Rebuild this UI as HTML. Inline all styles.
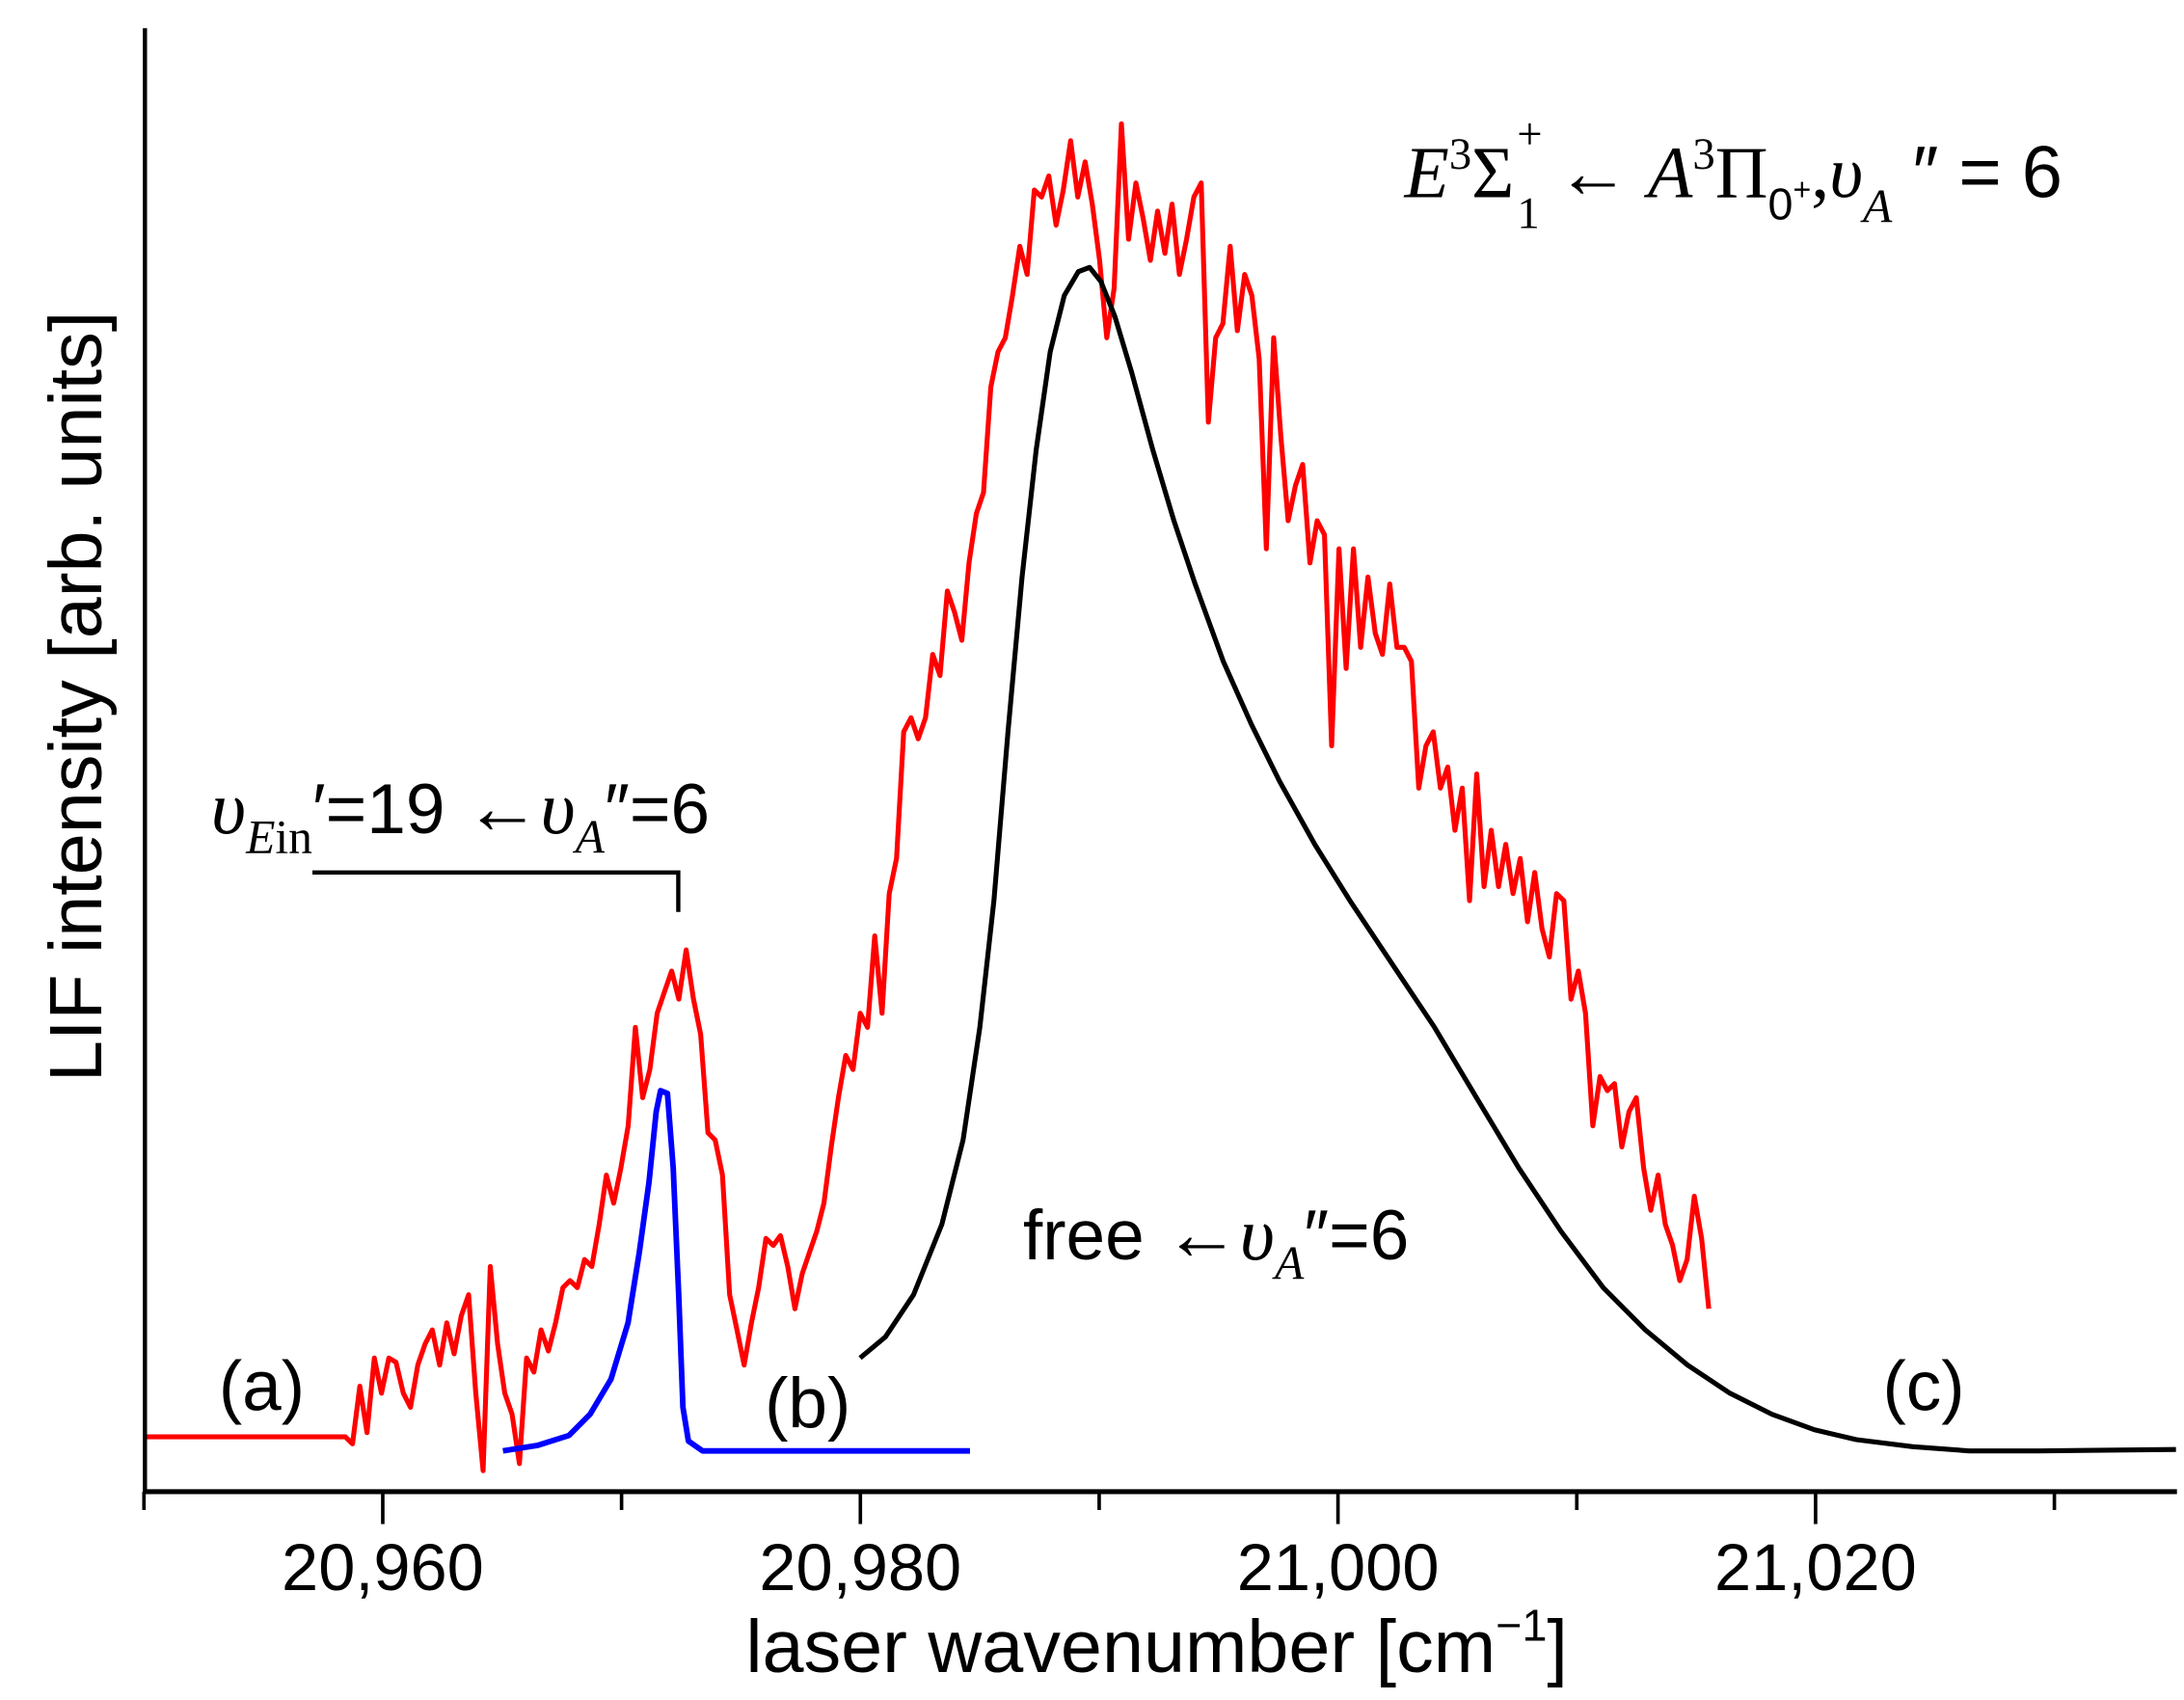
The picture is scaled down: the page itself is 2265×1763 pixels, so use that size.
<!DOCTYPE html>
<html><head><meta charset="utf-8"><style>html,body{margin:0;padding:0;background:#fff}svg{display:block}</style></head>
<body>
<svg id="chart" width="2265" height="1763" viewBox="0 0 1552 1208" xmlns="http://www.w3.org/2000/svg" font-family="Liberation Sans, sans-serif">
<rect width="1552" height="1208" fill="#fff"/>
<g id="marks"></g>
<g id="axes"></g>
<text transform="translate(72,495) rotate(-90)" text-anchor="middle" font-size="53">LIF intensity [arb. units]</text>
<text x="822" y="1188" text-anchor="middle" font-size="53">laser wavenumber [cm<tspan dy="-22" font-size="32">−1</tspan><tspan dy="22">]</tspan></text>
<text x="186" y="1002" text-anchor="middle" font-size="50">(a)</text>
<text x="574" y="1014" text-anchor="middle" font-size="50">(b)</text>
<text x="1367" y="1002" text-anchor="middle" font-size="50">(c)</text>
<text x="727" y="895" font-size="50">free <tspan font-size="54">←</tspan><tspan font-family="Liberation Serif, serif" font-style="italic" font-size="54">υ</tspan><tspan font-family="Liberation Serif, serif" font-style="italic" font-size="34" dy="14">A</tspan><tspan dy="-14">″=6</tspan></text>
<text x="150" y="592" font-size="50"><tspan font-family="Liberation Serif, serif" font-style="italic" font-size="54">υ</tspan><tspan font-family="Liberation Serif, serif" font-style="italic" font-size="34" dy="14">E</tspan><tspan font-family="Liberation Serif, serif" font-size="34">in</tspan><tspan dy="-14">′=19 </tspan><tspan font-size="54">←</tspan><tspan font-family="Liberation Serif, serif" font-style="italic" font-size="54">υ</tspan><tspan font-family="Liberation Serif, serif" font-style="italic" font-size="34" dy="14">A</tspan><tspan dy="-14">″=6</tspan></text>
<path d="M222,620 H482 V648" fill="none" stroke="#000" stroke-width="3"/>
<text x="998" y="140" font-size="52" font-family="Liberation Serif, serif"><tspan font-style="italic">E</tspan><tspan font-size="32" dy="-20">3</tspan><tspan dy="20">Σ</tspan><tspan font-size="32" dy="-34" dx="2">+</tspan><tspan font-size="32" dx="-18" dy="56">1</tspan><tspan dy="-22" dx="12">← </tspan><tspan font-style="italic">A</tspan><tspan font-size="32" dy="-20">3</tspan><tspan dy="20">Π</tspan><tspan font-size="32" dy="16" font-family="Liberation Sans, sans-serif">0</tspan><tspan font-size="22" dy="-14" font-family="Liberation Sans, sans-serif">+</tspan><tspan dy="-2">,</tspan><tspan font-style="italic">υ</tspan><tspan font-style="italic" font-size="34" dy="18">A</tspan><tspan dy="-18" font-family="Liberation Sans, sans-serif"> ″ = 6</tspan></text>
<script>
const xTicks=[20960,20980,21000,21020];
const xTickLabels=["20,960","20,980","21,000","21,020"];
const xMinorTicks=[20950,20970,20990,21010,21030];
const redFlatWn=[20950,20958.43];
const redFlatVal=[39,39];
const redStartWn=20958.43, redEndWn=21015.53;
const redVals=[39,34,75,42,95,70,95,92,70,60,90,105,115,90,120,98,125,140,70,15,160,105,70,55,20,95,85,115,100,120,145,150,145,165,160,190,225,205,230,260,330,280,300,340,355,370,350,385,350,325,255,250,225,140,115,90,120,145,180,175,182,160,130,155,170,185,205,245,280,310,300,340,330,395,340,425,450,540,550,535,550,595,580,640,625,605,660,695,710,785,810,820,850,885,865,925,920,935,900,925,960,920,945,915,875,820,855,972,890,930,905,875,910,880,915,865,890,920,930,760,820,830,885,825,865,850,805,670,820,750,690,715,730,660,690,680,530,670,585,670,600,650,610,595,645,600,600,590,500,530,540,500,515,470,500,420,510,430,470,430,460,425,450,405,440,400,380,425,420,350,370,340,260,295,285,290,245,270,280,230,200,225,190,175,150,165,210,180,130];
const blueWn=[20965.03,20966.5,20967.8,20968.68,20969.56,20970.27,20970.74,20971.15,20971.45,20971.63,20971.92,20972.16,20972.39,20972.57,20972.80,20973.39,20984.59];
const blueVals=[29,33,40,55,80,120,170,220,270,285,283,230,140,60,36,29,29];
const blackWn=[20979.99,20981.05,20982.23,20983.41,20984.30,20985.00,20985.59,20986.18,20986.77,20987.36,20987.95,20988.54,20989.13,20989.60,20990.07,20990.66,20991.37,20992.25,20993.13,20994.02,20995.20,20996.38,20997.55,20999.03,21000.50,21002.27,21004.04,21005.80,21007.57,21009.34,21011.11,21012.87,21014.64,21016.41,21018.18,21019.95,21021.71,21024.07,21026.43,21029.37,21035.09];
const blackVals=[95,110,140,190,250,330,420,540,650,740,810,850,867,870,860,835,795,740,690,645,590,545,505,460,420,375,330,280,230,185,145,115,90,70,55,44,37,32,29,29,30];

const X0=103,X1=1547,Y0=1060;
function xs(v){return 272+(v-20960)*16.97;}
function ys(v){return Y0-v;}
const NS="http://www.w3.org/2000/svg";
const marks=document.getElementById('marks');
const axes=document.getElementById('axes');
function line(wn,vals,color,w,name){
  const p=document.createElementNS(NS,'polyline');
  p.setAttribute('points',wn.map((x,i)=>xs(x).toFixed(1)+','+ys(vals[i]).toFixed(1)).join(' '));
  p.setAttribute('fill','none');p.setAttribute('stroke',color);p.setAttribute('stroke-width',w);
  p.setAttribute('stroke-linejoin','round');
  
  
  marks.appendChild(p);
}
const redWn=redVals.map((_,i)=>redStartWn+i*(redEndWn-redStartWn)/(redVals.length-1));
line(redFlatWn.concat(redWn),redFlatVal.concat(redVals),'#ff0000',3.5,'series-a-red');
line(blueWn,blueVals,'#0000ff',4,'series-b-blue');
line(blackWn,blackVals,'#000000',3.5,'series-c-black');
function ln(x1,y1,x2,y2,w,name){
  const l=document.createElementNS(NS,'line');
  l.setAttribute('x1',x1);l.setAttribute('y1',y1);l.setAttribute('x2',x2);l.setAttribute('y2',y2);
  l.setAttribute('stroke','#000');l.setAttribute('stroke-width',w);
  
  
  axes.appendChild(l);
}
ln(X0,Y0,X1,Y0,3.5,'x-axis-line');
ln(X0,20,X0,Y0+1.5,3,'y-axis-line');
xTicks.forEach((t,i)=>{
  ln(xs(t),Y0,xs(t),Y0+23,2.5,'x-major-tick');
  const tx=document.createElementNS(NS,'text');
  tx.setAttribute('x',xs(t));tx.setAttribute('y',1130);tx.setAttribute('text-anchor','middle');tx.setAttribute('font-size','47');
  tx.textContent=xTickLabels[i];
  
  
  axes.appendChild(tx);
});
xMinorTicks.forEach(t=>{ln(xs(t),Y0,xs(t),Y0+13,2.5,'x-minor-tick');});
</script>
</svg>
</body></html>
